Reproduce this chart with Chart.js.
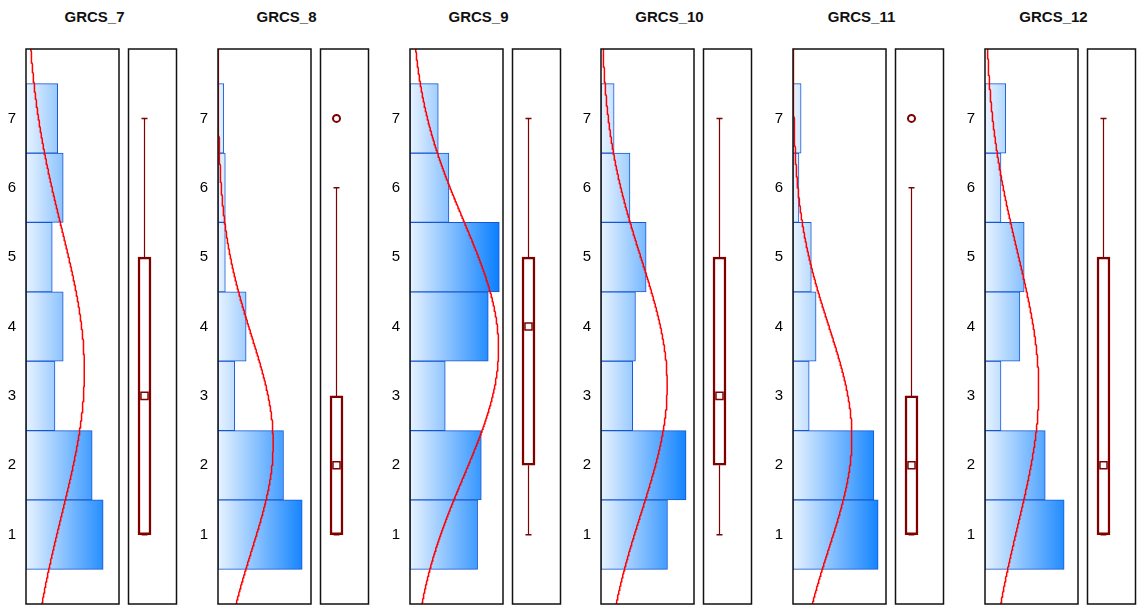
<!DOCTYPE html>
<html>
<head>
<meta charset="utf-8">
<script src="https://cdn.jsdelivr.net/npm/chart.js@4.4.1/dist/chart.umd.min.js"></script>
<style>
  html, body { margin: 0; padding: 0; background: #fff; overflow: hidden; width: 1137px; height: 606px; }
  #wrap { position: relative; width: 1137px; height: 606px; }
  canvas { position: absolute; }
  .ttl { position: absolute; top: 8px; width: 160px; text-align: center; line-height: 18px;
         font: bold 15px "Liberation Sans", Arial, sans-serif; color: #111; }
</style>
</head>
<body>
<div id="wrap"></div>
<script>
// Response levels shown on the vertical axis
const scoreLevels = [1, 2, 3, 4, 5, 6, 7];
const itemNames = ['GRCS_7', 'GRCS_8', 'GRCS_9', 'GRCS_10', 'GRCS_11', 'GRCS_12'];

// Share of responses (%) at each level 1..7, per item
const grcs7Pct  = [25.3, 21.7, 9.5, 12.2, 8.6, 12.2, 10.4];
const grcs8Pct  = [39.2, 30.5, 7.8, 13.1, 3.4, 3.4, 2.7];
const grcs9Pct  = [16.5, 17.4, 8.6, 19.1, 21.8, 9.5, 6.9];
const grcs10Pct = [21.8, 27.9, 10.4, 11.3, 14.8, 9.5, 4.3];
const grcs11Pct = [35.8, 34.0, 6.8, 9.7, 7.7, 2.5, 3.4];
const grcs12Pct = [29.7, 22.6, 6.0, 13.1, 14.7, 6.0, 7.8];
const itemPct = [grcs7Pct, grcs8Pct, grcs9Pct, grcs10Pct, grcs11Pct, grcs12Pct];

// Upper end of the (hidden) frequency axis in each histogram
const pctAxisMax = [30.5, 43.3, 22.7, 30.5, 39.1, 34.9];

// Box plot summaries per item
const boxQ1       = [1, 1, 2, 2, 1, 1];
const boxMedian   = [3, 2, 4, 3, 2, 2];
const boxQ3       = [5, 3, 5, 5, 3, 5];
const whiskerLow  = [1, 1, 1, 1, 1, 1];
const whiskerHigh = [7, 6, 7, 7, 6, 7];
const outlierValues = [[], [7], [], [], [7], []];

// ---- layout ----
const PANEL_STEP = 191.8;
const FIRST_LEFT = 26;
const PLOT_TOP = 49;
const PLOT_H = 555;
const HIST_W = 93;
const BOX_GAP = 102;
const BOX_W = 49;
const AXIS_W = 30;
const PAD_V = 12;

const wrap = document.getElementById('wrap');
const DARK_RED = '#800000';

function makeCanvas(left, top, w, h) {
  const c = document.createElement('canvas');
  c.width = w; c.height = h;
  c.style.left = left + 'px'; c.style.top = top + 'px';
  c.style.width = w + 'px'; c.style.height = h + 'px';
  wrap.appendChild(c);
  return c;
}

const framePlugin = {
  id: 'panelFrame',
  afterDraw(chart) {
    const a = chart.chartArea, ctx = chart.ctx;
    ctx.save();
    ctx.strokeStyle = '#111';
    ctx.lineWidth = 1.5;
    ctx.strokeRect(a.left, a.top, a.right - a.left, a.bottom - a.top);
    ctx.restore();
  }
};

function barGradient(context) {
  const chart = context.chart;
  const a = chart.chartArea;
  if (!a) return 'rgb(120,180,255)';
  const g = chart.ctx.createLinearGradient(a.left, 0, a.right, 0);
  g.addColorStop(0, 'rgb(232,243,255)');
  g.addColorStop(1, 'rgb(0,122,255)');
  return g;
}

// Normal density fitted to the level distribution, scaled to the histogram
function normalCurve(pct) {
  const total = pct.reduce((s, p) => s + p, 0);
  const mean = pct.reduce((s, p, k) => s + p * scoreLevels[k], 0) / total;
  const variance = pct.reduce((s, p, k) => s + p * (scoreLevels[k] - mean) ** 2, 0) / total;
  const sd = Math.sqrt(variance);
  const pts = [];
  for (let v = -0.5; v <= 8.5001; v += 0.02) {
    const z = (v - mean) / sd;
    pts.push({ x: total * Math.exp(-0.5 * z * z) / (sd * Math.sqrt(2 * Math.PI)), y: v });
  }
  return pts;
}

const common = {
  responsive: false,
  animation: false,
  devicePixelRatio: 1,
  events: [],
  plugins: { legend: { display: false }, tooltip: { enabled: false }, title: { display: false } }
};

itemNames.forEach((name, i) => {
  const histLeft = Math.round(FIRST_LEFT + i * PANEL_STEP);
  const boxLeft = histLeft + BOX_GAP;
  const pct = itemPct[i];

  // title
  const t = document.createElement('div');
  t.className = 'ttl';
  t.textContent = name;
  t.style.left = (histLeft + 68.5 - 80) + 'px';
  wrap.appendChild(t);

  // histogram with fitted normal curve
  const hc = makeCanvas(histLeft - AXIS_W, PLOT_TOP - PAD_V, AXIS_W + HIST_W + 6, PLOT_H + 2 * PAD_V);
  new Chart(hc, {
    type: 'bar',
    data: {
      datasets: [
        {
          type: 'line',
          data: normalCurve(pct),
          borderColor: '#ff0000',
          borderWidth: 1.5,
          pointRadius: 0,
          tension: 0,
          order: 1
        },
        {
          type: 'bar',
          data: scoreLevels.map((v, k) => ({ x: pct[k], y: v })),
          backgroundColor: barGradient,
          borderColor: '#1657d0',
          borderWidth: 1,
          borderSkipped: false,
          barPercentage: 1,
          categoryPercentage: 1,
          order: 2
        }
      ]
    },
    options: Object.assign({}, common, {
      indexAxis: 'y',
      layout: { padding: { top: PAD_V, bottom: PAD_V, left: 0, right: 6 } },
      scales: {
        x: { type: 'linear', min: 0, max: pctAxisMax[i], offset: false, display: false },
        y: {
          type: 'linear', min: 0, max: 8, offset: false, position: 'left',
          grid: { display: false, drawTicks: false },
          border: { display: false },
          ticks: { stepSize: 1, padding: 10, color: '#000',
                   font: { family: '"Liberation Sans", Arial, sans-serif', size: 15 } },
          afterBuildTicks: s => { s.ticks = s.ticks.filter(tk => tk.value >= 1 && tk.value <= 7); },
          afterFit: s => { s.width = AXIS_W; s.paddingTop = 0; s.paddingBottom = 0; }
        }
      }
    }),
    plugins: [framePlugin]
  });

  // box plot
  const bc = makeCanvas(boxLeft - 6, PLOT_TOP - PAD_V, BOX_W + 12, PLOT_H + 2 * PAD_V);
  new Chart(bc, {
    type: 'bar',
    data: {
      datasets: [
        {
          type: 'line',
          data: [{ x: 1, y: boxQ3[i] }, { x: 1, y: whiskerHigh[i] }],
          borderColor: DARK_RED, borderWidth: 1.2, pointRadius: 0, order: 5
        },
        {
          type: 'line',
          data: [{ x: 1, y: boxQ1[i] }, { x: 1, y: whiskerLow[i] }],
          borderColor: DARK_RED, borderWidth: 1.2, pointRadius: 0, order: 5
        },
        {
          type: 'line', showLine: false,
          data: [{ x: 1, y: whiskerHigh[i] }, { x: 1, y: whiskerLow[i] }],
          pointStyle: 'line', pointRadius: 3, pointBorderWidth: 1.5,
          pointBorderColor: DARK_RED, order: 4
        },
        {
          type: 'bar',
          data: [{ x: 1, y: [boxQ1[i], boxQ3[i]] }],
          backgroundColor: '#ffffff', borderColor: DARK_RED, borderWidth: 2.5,
          borderSkipped: false, barThickness: 13, order: 3
        },
        {
          type: 'line', showLine: false,
          data: [{ x: 1, y: boxMedian[i] }],
          pointStyle: 'rect', pointRadius: 5, pointBorderWidth: 1.5,
          pointBackgroundColor: '#ffffff', pointBorderColor: DARK_RED, order: 1
        },
        {
          type: 'line', showLine: false,
          data: outlierValues[i].map(v => ({ x: 1, y: v })),
          pointStyle: 'circle', pointRadius: 3.5, pointBorderWidth: 2,
          pointBackgroundColor: '#ffffff', pointBorderColor: DARK_RED, order: 1
        }
      ]
    },
    options: Object.assign({}, common, {
      layout: { padding: { top: PAD_V, bottom: PAD_V, left: 6, right: 6 } },
      scales: {
        x: { type: 'linear', min: 0, max: 3, offset: false, display: false },
        y: { type: 'linear', min: 0, max: 8, offset: false, display: false }
      }
    }),
    plugins: [framePlugin]
  });
});
</script>
</body>
</html>
